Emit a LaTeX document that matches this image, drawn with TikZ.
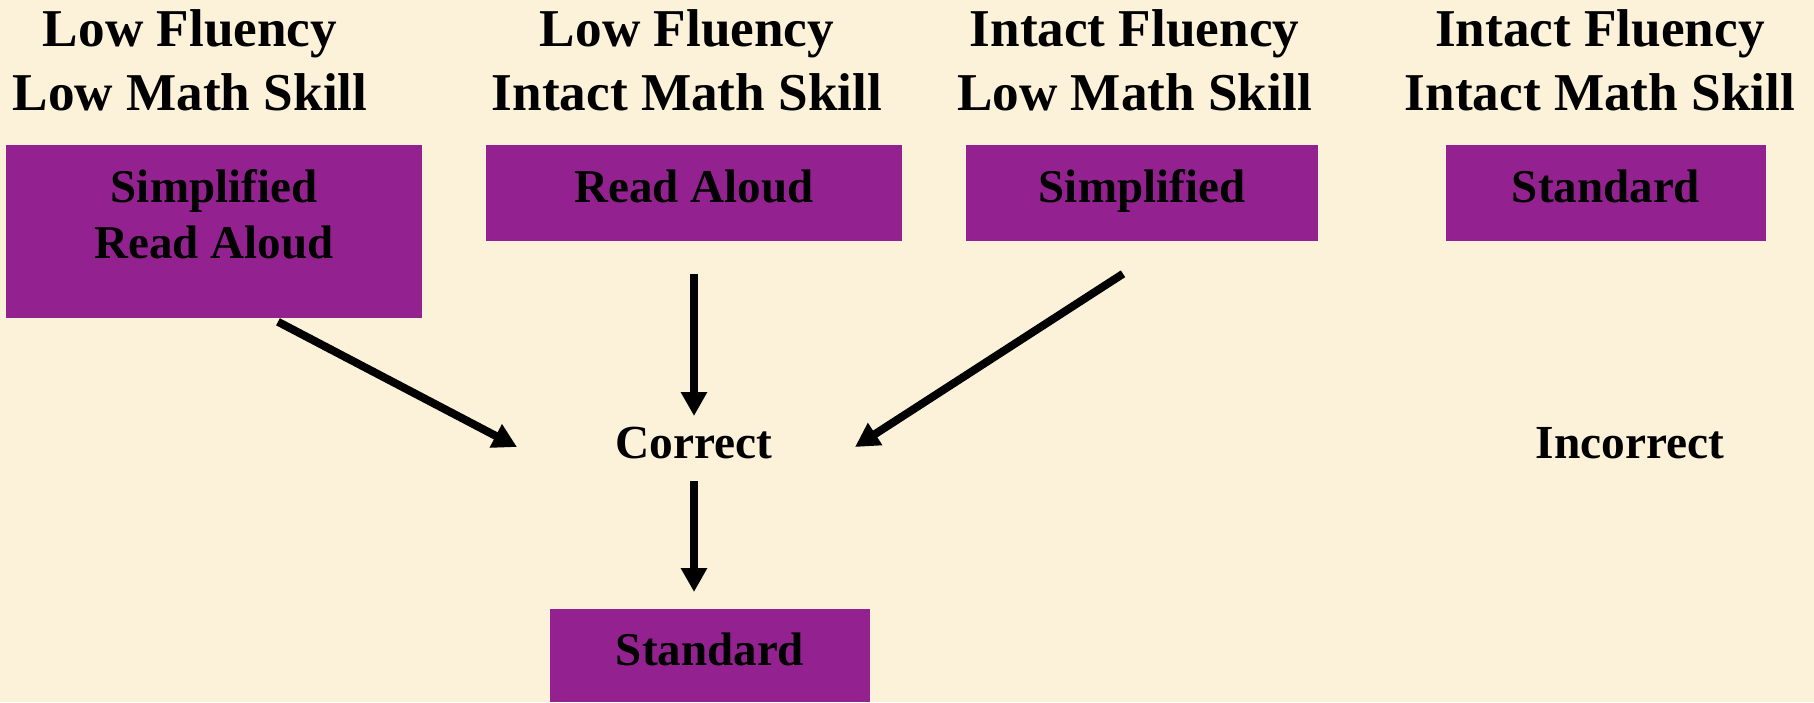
\documentclass[tikz,border=0pt]{standalone}
\usepackage{fontspec}
\setmainfont{Liberation Serif}
\usepackage{tikz}
\usetikzlibrary{arrows.meta,positioning}
\definecolor{parch}{HTML}{FCF2DA}
\definecolor{plum}{HTML}{93218F}

\tikzset{
  head/.style={font=\fontsize{26.6}{32}\selectfont\bfseries, align=center, inner sep=0pt, anchor=base},
  choice/.style={fill=plum, inner sep=0pt, anchor=north, align=center,
    font=\fontsize{23.5}{28}\selectfont\bfseries, text height=28.5pt, text depth=19.5pt},
  outcome/.style={font=\fontsize{23.7}{28}\selectfont\bfseries, inner sep=0pt, anchor=base},
  arr/.style={line width=4pt, -{Triangle[length=12pt,width=12.5pt]}},
}

\begin{document}
\begin{tikzpicture}[x=0.5pt, y=-0.5pt]
% page: pixel grid, y runs downwards
\fill[parch] (0,0) rectangle (1814,702);
\useasboundingbox (0,0) rectangle (1814,702);
% the four groups (base = last line)
\node[head] (h1) at (190,110) {Low Fluency\\Low Math Skill};
\node[head] (h2) at (687,110) {Low Fluency\\Intact Math Skill};
\node[head] (h3) at (1134.5,110) {Intact Fluency\\Low Math Skill};
\node[head] (h4) at (1600,110) {Intact Fluency\\Intact Math Skill};
% first presentation of each item
\node[choice, minimum width=208pt, text height=56.5pt, text depth=30pt] (b1) at (214,145) {Simplified\\Read Aloud};
\node[choice, minimum width=208pt] (b2) at (694,145) {Read Aloud};
\node[choice, minimum width=176pt] (b3) at (1142,145) {Simplified};
\node[choice, minimum width=160pt] (b4) at (1606,145) {Standard};
% answers
\node[outcome] (ok) at (694,458) {Correct};
\node[outcome] (bad) at (1630,458) {Incorrect};
\node[choice, minimum width=160pt, text height=28pt, text depth=18.5pt] (b5) at (710,609) {Standard};
% arrows
\draw[arr] ([xshift=32pt,yshift=-1.5pt]b1.south) -- ([xshift=-88.5pt,yshift=5.5pt]ok.base);
\draw[arr] ([yshift=-16pt]b2.south) -- ([yshift=21pt]ok.base);
\draw[arr] ([xshift=-9.5pt,yshift=-16pt]b3.south) -- ([xshift=80.5pt,yshift=5.5pt]ok.base);
\draw[arr] ([yshift=-11.5pt]ok.base) -- ([xshift=-8pt,yshift=8.5pt]b5.north);
\end{tikzpicture}
\end{document}
